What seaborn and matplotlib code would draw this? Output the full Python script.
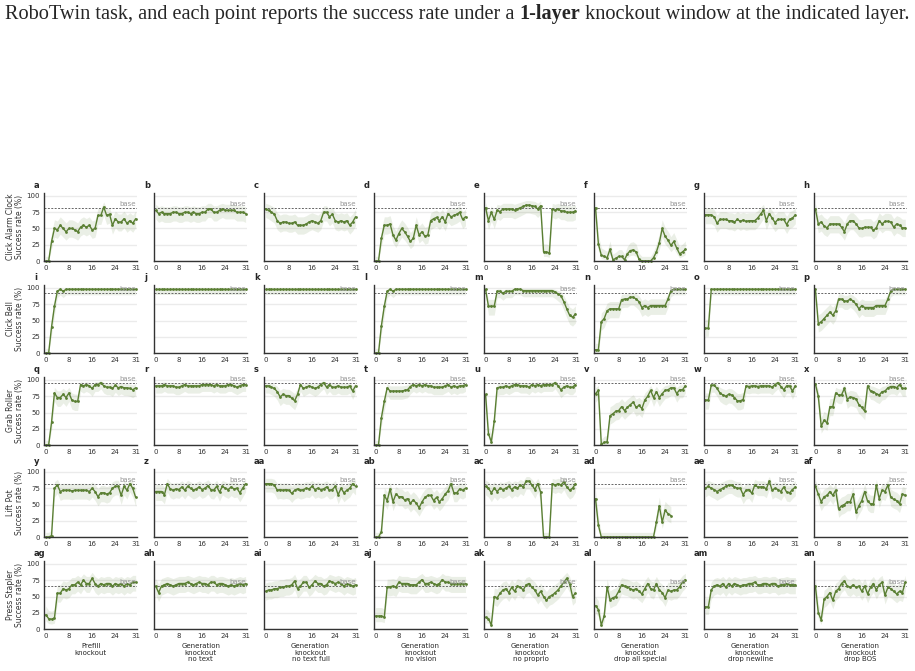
import numpy as np
import pandas as pd
import matplotlib.pyplot as plt
import seaborn as sns

# --- data: success rate (%) per knocked-out layer, 50 trials per point ---
LAYERS = list(range(32))
N_TRIALS = 50

TASKS = ["Click Alarm Clock", "Click Bell", "Grab Roller", "Lift Pot", "Press Stapler"]
BASE = [81, 93, 95, 82, 66]
CONDITIONS = ["Prefill\nknockout", "Generation\nknockout\nno text", "Generation\nknockout\nno text full",
              "Generation\nknockout\nno vision", "Generation\nknockout\nno proprio",
              "Generation\nknockout\ndrop all special", "Generation\nknockout\ndrop newline",
              "Generation\nknockout\ndrop BOS"]
LETTERS = ("a b c d e f g h i j k l m n o p q r s t u v w x y z "
           "aa ab ac ad ae af ag ah ai aj ak al am an").split()

# Click Alarm Clock
alarm_prefill = [0, 0, 30, 50, 48, 55, 50, 45, 50, 50, 48, 45, 52, 55, 52, 55, 48, 50, 70, 70, 83, 70, 72, 55, 65, 60, 60, 65, 58, 62, 58, 65]
alarm_no_text = [78, 73, 75, 73, 73, 73, 75, 75, 73, 73, 75, 75, 73, 75, 73, 73, 75, 75, 80, 80, 75, 75, 78, 80, 78, 78, 78, 78, 75, 75, 75, 73]
alarm_no_text_full = [80, 78, 75, 72, 62, 58, 60, 60, 58, 58, 60, 55, 55, 55, 57, 60, 62, 60, 58, 62, 75, 75, 68, 72, 62, 60, 62, 60, 62, 55, 60, 68]
alarm_no_vision = [0, 0, 35, 55, 55, 57, 40, 32, 42, 50, 45, 38, 30, 35, 55, 40, 45, 38, 40, 62, 65, 67, 62, 68, 60, 73, 68, 70, 72, 75, 64, 68]
alarm_no_proprio = [82, 62, 75, 64, 78, 76, 80, 80, 80, 80, 78, 80, 82, 84, 86, 86, 85, 84, 80, 85, 14, 14, 12, 80, 78, 80, 77, 77, 75, 75, 75, 77]
alarm_drop_special = [82, 26, 9, 7, 5, 18, 2, 4, 7, 7, 2, 11, 16, 17, 14, 3, 0, 0, 0, 0, 5, 14, 28, 50, 38, 32, 24, 30, 20, 11, 14, 18]
alarm_drop_newline = [71, 71, 71, 68, 58, 64, 64, 64, 62, 62, 60, 64, 61, 63, 61, 62, 62, 62, 66, 72, 78, 62, 73, 66, 59, 64, 64, 64, 56, 64, 66, 71]
alarm_drop_bos = [80, 57, 60, 54, 51, 57, 57, 57, 57, 52, 45, 57, 62, 62, 57, 51, 50, 52, 52, 52, 47, 51, 62, 57, 61, 61, 60, 52, 57, 55, 51, 51]

# Click Bell
bell_prefill = [0, 0, 40, 72, 95, 98, 95] + [98] * 25
bell_no_text = [98] * 32
bell_no_text_full = [98] * 32
bell_no_vision = [0, 0, 42, 72, 95, 98, 95] + [98] * 25
bell_no_proprio = [98, 72, 72, 72, 95, 95, 92, 95, 95, 95, 98, 98, 98, 96, 96, 96, 96, 96, 96, 96, 96, 96, 96, 96, 94, 91, 88, 79, 68, 58, 55, 60]
bell_drop_special = [5, 5, 48, 53, 65, 68, 68, 68, 68, 82, 83, 83, 86, 86, 83, 79, 70, 73, 70, 73, 73, 73, 73, 73, 73, 83, 96, 98, 98, 98, 98, 98]
bell_drop_newline = [38, 38] + [98] * 30
bell_drop_bos = [98, 45, 48, 53, 58, 63, 58, 65, 83, 83, 80, 80, 83, 80, 75, 68, 73, 70, 70, 70, 70, 73, 73, 73, 73, 83, 96, 98, 98, 98, 98, 98]

# Grab Roller
roller_prefill = [0, 0, 35, 80, 73, 73, 78, 73, 80, 69, 67, 67, 93, 91, 93, 91, 87, 93, 93, 96, 91, 89, 89, 87, 92, 88, 90, 88, 88, 87, 85, 88]
roller_no_text = [91, 91, 91, 93, 91, 91, 91, 89, 89, 91, 93, 91, 91, 91, 91, 91, 93, 93, 93, 93, 91, 93, 91, 91, 91, 93, 93, 91, 89, 91, 93, 93]
roller_no_text_full = [91, 91, 89, 87, 82, 74, 78, 76, 76, 72, 68, 78, 93, 87, 89, 91, 89, 87, 89, 93, 96, 89, 93, 89, 89, 91, 89, 89, 89, 91, 83, 91]
roller_no_vision = [0, 0, 42, 67, 88, 83, 83, 83, 83, 83, 84, 85, 90, 93, 91, 93, 91, 93, 91, 91, 89, 89, 89, 89, 91, 93, 89, 91, 89, 91, 91, 93]
roller_no_proprio = [78, 17, 5, 37, 88, 89, 89, 91, 89, 91, 93, 93, 91, 91, 91, 89, 93, 91, 93, 91, 93, 93, 93, 93, 96, 91, 85, 89, 91, 89, 89, 93]
roller_drop_special = [79, 84, 1, 4, 5, 45, 48, 52, 53, 59, 53, 58, 62, 66, 58, 61, 56, 69, 75, 84, 73, 82, 73, 79, 84, 85, 88, 88, 79, 85, 85, 91]
roller_drop_newline = [69, 69, 92, 92, 87, 80, 77, 75, 78, 77, 73, 68, 68, 70, 91, 90, 91, 91, 90, 91, 91, 91, 91, 89, 93, 96, 90, 85, 91, 91, 83, 91]
roller_drop_bos = [94, 75, 29, 38, 34, 59, 59, 80, 77, 77, 87, 70, 74, 73, 71, 62, 58, 52, 91, 83, 82, 79, 77, 82, 83, 88, 90, 90, 88, 93, 87, 87]

# Lift Pot
pot_prefill = [0, 0, 2, 75, 80, 70, 72, 72, 72, 71, 72, 72, 72, 72, 72, 70, 75, 70, 62, 68, 68, 66, 68, 75, 78, 78, 64, 78, 72, 82, 75, 61]
pot_no_text = [70, 70, 70, 65, 82, 74, 72, 74, 73, 77, 72, 78, 75, 72, 74, 77, 73, 75, 79, 73, 72, 78, 69, 78, 75, 73, 77, 74, 75, 68, 75, 82]
pot_no_text_full = [82, 82, 82, 80, 72, 73, 72, 73, 72, 67, 72, 74, 72, 73, 75, 74, 78, 73, 75, 73, 74, 77, 72, 73, 78, 65, 75, 68, 72, 75, 82, 78]
pot_no_vision = [0, 0, 8, 64, 56, 74, 54, 66, 62, 62, 57, 59, 52, 57, 52, 45, 54, 61, 64, 64, 56, 61, 54, 59, 66, 71, 82, 68, 68, 74, 72, 75]
pot_no_proprio = [78, 75, 68, 75, 70, 75, 73, 75, 78, 73, 77, 75, 80, 77, 86, 86, 80, 73, 82, 69, 0, 0, 0, 82, 80, 82, 80, 85, 77, 72, 75, 82]
pot_drop_special = [59, 18] + [0] * 19 + [23, 48, 23, 41, 36, 33] + [np.nan] * 5
pot_drop_newline = [75, 78, 75, 73, 70, 73, 75, 78, 80, 80, 77, 75, 75, 65, 72, 73, 67, 80, 77, 77, 77, 74, 86, 72, 75, 73, 70, 77, 69, 68, 73, 77]
pot_drop_bos = [78, 66, 54, 62, 64, 70, 64, 72, 43, 48, 50, 54, 54, 66, 38, 48, 56, 70, 55, 51, 51, 80, 59, 72, 70, 80, 61, 58, 56, 51, 66, 64]

# Press Stapler
stapler_prefill = [22, 16, 15, 17, 55, 55, 62, 60, 62, 68, 68, 72, 68, 75, 70, 70, 78, 70, 66, 70, 68, 70, 70, 66, 70, 68, 70, 66, 70, 68, 72, 72]
stapler_no_text = [66, 56, 66, 68, 70, 68, 66, 68, 70, 70, 70, 72, 70, 68, 70, 72, 70, 70, 68, 72, 72, 68, 70, 70, 68, 66, 68, 66, 68, 70, 68, 70]
stapler_no_text_full = [58, 60, 60, 62, 62, 64, 64, 66, 66, 68, 74, 62, 66, 72, 72, 64, 68, 74, 70, 70, 66, 68, 74, 72, 70, 72, 70, 66, 70, 68, 66, 68]
stapler_no_vision = [20, 20, 20, 18, 65, 65, 66, 64, 72, 70, 70, 70, 68, 68, 68, 72, 76, 70, 70, 72, 70, 68, 70, 76, 72, 72, 70, 70, 70, 70, 70, 70]
stapler_no_proprio = [18, 16, 6, 50, 48, 55, 60, 62, 56, 64, 58, 66, 64, 60, 68, 70, 64, 60, 52, 58, 50, 44, 50, 52, 56, 60, 66, 72, 78, 70, 50, 55]
stapler_drop_special = [36, 30, 6, 20, 65, 45, 48, 50, 58, 68, 66, 65, 62, 60, 62, 58, 54, 62, 70, 62, 60, 70, 60, 56, 48, 60, 58, 60, 60, 65, 72, 76]
stapler_drop_newline = [34, 34, 60, 66, 68, 66, 70, 64, 70, 66, 70, 68, 66, 68, 68, 70, 70, 72, 68, 68, 70, 70, 68, 70, 70, 66, 68, 68, 70, 68, 68, 68]
stapler_drop_bos = [66, 25, 14, 46, 50, 56, 44, 58, 62, 70, 74, 66, 64, 68, 64, 66, 58, 66, 54, 64, 70, 60, 68, 72, 52, 64, 62, 58, 54, 58, 56, 72]

GRID = [
    [alarm_prefill, alarm_no_text, alarm_no_text_full, alarm_no_vision, alarm_no_proprio, alarm_drop_special, alarm_drop_newline, alarm_drop_bos],
    [bell_prefill, bell_no_text, bell_no_text_full, bell_no_vision, bell_no_proprio, bell_drop_special, bell_drop_newline, bell_drop_bos],
    [roller_prefill, roller_no_text, roller_no_text_full, roller_no_vision, roller_no_proprio, roller_drop_special, roller_drop_newline, roller_drop_bos],
    [pot_prefill, pot_no_text, pot_no_text_full, pot_no_vision, pot_no_proprio, pot_drop_special, pot_drop_newline, pot_drop_bos],
    [stapler_prefill, stapler_no_text, stapler_no_text_full, stapler_no_vision, stapler_no_proprio, stapler_drop_special, stapler_drop_newline, stapler_drop_bos],
]

GREEN = "#5a7f33"


def wilson(p, n=N_TRIALS, z=1.96):
    p = np.asarray(p, dtype=float) / 100
    denom = 1 + z ** 2 / n
    centre = (p + z ** 2 / (2 * n)) / denom
    half = z * np.sqrt(p * (1 - p) / n + z ** 2 / (4 * n ** 2)) / denom
    return 100 * (centre - half), 100 * (centre + half)


rows = []
for i, task in enumerate(TASKS):
    for j, cond in enumerate(CONDITIONS):
        for layer, rate in zip(LAYERS, GRID[i][j]):
            rows.append({"task": task, "cond": cond, "layer": layer, "rate": rate})
df = pd.DataFrame(rows)

sns.set_style("white")
plt.rcParams["font.family"] = ["DejaVu Sans"]

W, H = 915, 671
fig = plt.figure(figsize=(W / 100, H / 100), dpi=100)

AX_W, AX_H = 92.8, 68.25
LEFT0, PITCH_X = 44.3, 109.95
ROW_BOTTOMS = [261, 353, 445, 537, 629]

for i, task in enumerate(TASKS):
    for j, cond in enumerate(CONDITIONS):
        left = LEFT0 + j * PITCH_X
        ax = fig.add_axes([left / W, 1 - ROW_BOTTOMS[i] / H, AX_W / W, AX_H / H])
        sub = df[(df["task"] == task) & (df["cond"] == cond)]
        lo, hi = wilson(sub["rate"])
        ax.fill_between(sub["layer"], lo, hi, color=GREEN, alpha=0.12, lw=0)
        sns.lineplot(data=sub, x="layer", y="rate", ax=ax, color=GREEN, lw=1.0,
                     marker="o", markersize=2, markeredgewidth=0, errorbar=None, clip_on=False)
        ax.axhline(BASE[i], color="#666666", lw=0.7, ls=(0, (2, 1.5)), zorder=1)
        ax.text(31, BASE[i] + 1.5, "base", ha="right", va="bottom", fontsize=5, color="#999999")

        ax.set_xlim(-0.5, 31.5)
        ax.set_ylim(0, 105)
        ax.set_xticks([0, 8, 16, 24, 31])
        ax.set_yticks([0, 25, 50, 75, 100])
        ax.grid(axis="y", color="#ebebeb", lw=1.0)
        ax.set_axisbelow(True)
        ax.tick_params(axis="both", labelsize=5, length=2, width=0.6, pad=1, colors="#333333")
        for side in ["top", "right"]:
            ax.spines[side].set_visible(False)
        for side in ["left", "bottom"]:
            ax.spines[side].set_color("#333333")
            ax.spines[side].set_linewidth(1.0)

        if j == 0:
            ax.set_ylabel(f"{task}\nSuccess rate (%)", fontsize=5.5, labelpad=2, linespacing=1.0, color="#333333")
        else:
            ax.set_yticklabels([])
            ax.set_ylabel("")
        if i == len(TASKS) - 1:
            ax.set_xlabel(cond, fontsize=5, labelpad=3, linespacing=1.1)
        else:
            ax.set_xlabel("")
        ax.text(-0.11, 1.11, LETTERS[i * 8 + j], transform=ax.transAxes, fontsize=6,
                weight="bold", ha="left", va="center")

# caption line above the figure
fig.canvas.draw()
renderer = fig.canvas.get_renderer()
cap_y = 1 - 14 / H
pieces = [("RoboTwin task, and each point reports the success rate under a ", "normal"),
          ("1-layer", "bold"),
          (" knockout window at the indicated layer.", "normal")]
x = 5 / W
for txt, weight in pieces:
    t = fig.text(x, cap_y, txt, family="Liberation Serif", fontsize=14.6, weight=weight, va="center", ha="left")
    bb = t.get_window_extent(renderer)
    x = bb.x1 / fig.bbox.width

fig.savefig("out.png", dpi=100)
